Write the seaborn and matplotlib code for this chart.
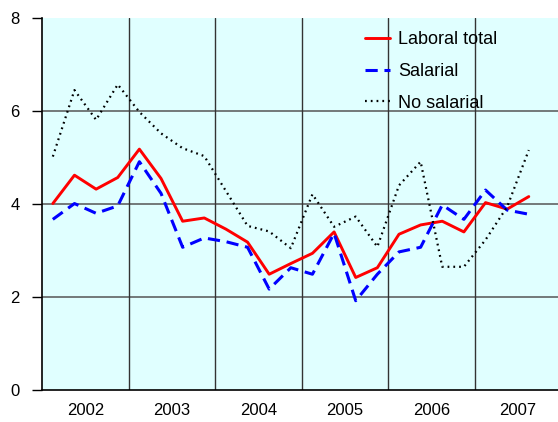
import numpy as np
import pandas as pd
import matplotlib
matplotlib.use("Agg")
import matplotlib.pyplot as plt
import seaborn as sns

# quarterly data, 2002Q1 - 2007Q3
years = ["2002", "2003", "2004", "2005", "2006", "2007"]
laboral_total = [4.01, 4.62, 4.32, 4.57, 5.18, 4.55, 3.63, 3.70,
                 3.46, 3.18, 2.49, 2.72, 2.94, 3.40, 2.42, 2.63,
                 3.35, 3.55, 3.63, 3.40, 4.03, 3.89, 4.16]
salarial = [3.67, 4.01, 3.80, 3.96, 4.91, 4.23, 3.07, 3.27,
            3.19, 3.07, 2.17, 2.63, 2.49, 3.37, 1.92, 2.49,
            2.97, 3.07, 3.98, 3.67, 4.30, 3.87, 3.78]
no_salarial = [5.02, 6.45, 5.81, 6.57, 5.98, 5.52, 5.20, 5.03,
               4.28, 3.53, 3.41, 3.05, 4.21, 3.51, 3.73, 3.08,
               4.40, 4.91, 2.65, 2.65, 3.23, 3.94, 5.16]

x = np.arange(len(laboral_total)) + 0.5
df = pd.DataFrame({"q": x, "Laboral total": laboral_total,
                   "Salarial": salarial, "No salarial": no_salarial})

sns.set_style("white", {"text.color": "black", "xtick.color": "black",
                        "ytick.color": "black", "ytick.left": True})
plt.rcParams["font.family"] = ["Liberation Sans", "DejaVu Sans"]

fig = plt.figure(figsize=(5.58, 4.22), dpi=100)
ax = fig.add_axes([0.0753, 0.0758, 0.9247, 0.8815])
ax.set_facecolor("#E0FFFF")

sns.lineplot(data=df, x="q", y="Laboral total", color="#FF0000", lw=2.1,
             label="Laboral total", ax=ax)
sns.lineplot(data=df, x="q", y="Salarial", color="#0000FF", lw=2.2,
             label="Salarial", ax=ax)
ax.lines[-1].set_dashes([4, 2.2])
sns.lineplot(data=df, x="q", y="No salarial", color="black", lw=1.6,
             label="No salarial", ax=ax)
ax.lines[-1].set_dashes([0.8, 1.8])

ax.set_xlim(0, 23.85)
ax.set_ylim(0, 8)
ax.set_yticks([0, 2, 4, 6, 8])
ax.set_xticks(np.arange(0, 24, 4))
ax.set_xticklabels([])
ax.set_xticks(np.arange(2, 24, 4), minor=True)
ax.set_xticklabels(years, minor=True)
ax.tick_params(axis="x", which="both", length=0, labelsize=12, pad=9)
ax.tick_params(axis="y", left=True, length=7, width=1, color="black",
               direction="out", labelsize=12, pad=9)
ax.set_xlabel("")
ax.set_ylabel("")

for yv in [2, 4, 6]:
    ax.axhline(yv, color="#555555", lw=1.1, zorder=1)
for xv in range(4, 24, 4):
    ax.axvline(xv, color="#333333", lw=1.0, zorder=1)

for s in ["top", "right"]:
    ax.spines[s].set_visible(False)
for s in ["left", "bottom"]:
    ax.spines[s].set_color("black")
    ax.spines[s].set_linewidth(1.2)

leg = ax.legend(loc="upper left", bbox_to_anchor=(0.626, 0.965), frameon=False,
                fontsize=13, handlelength=1.4, handletextpad=0.45,
                labelspacing=0.82, borderpad=0, borderaxespad=0)

fig.savefig("out.png", dpi=100)
